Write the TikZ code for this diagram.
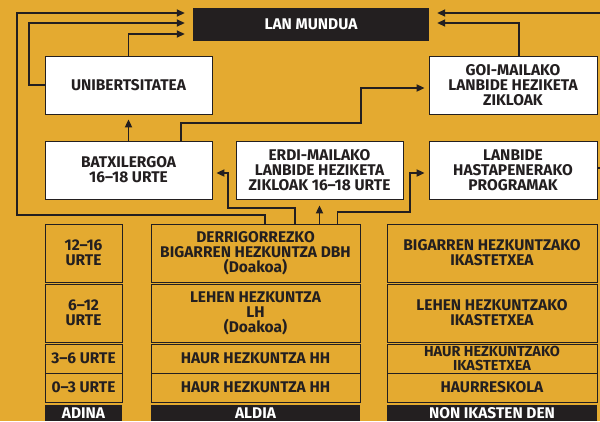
\documentclass[tikz,border=0pt]{standalone}
\usepackage{fontspec}
\setsansfont{Fira Sans}
\usetikzlibrary{arrows.meta}

\definecolor{ground}{HTML}{E4AA30}
\definecolor{ink}{HTML}{231F20}
\newcommand{\diagfont}{\sffamily\bfseries\fontsize{15.5}{15}\selectfont}

\tikzset{
  whitebox/.style={draw=ink, line width=0.8pt, fill=white, text=ink,
    minimum height=58pt, inner sep=0pt, align=center, font=\diagfont},
  blackbox/.style={fill=ink, text=white, inner sep=0pt, align=center,
    font=\diagfont},
  cell/.style={draw=ink, line width=0.8pt, text=ink, inner sep=0pt,
    align=center, font=\diagfont},
  conn/.style={draw=ink, line width=1.8pt, line join=miter,
    -{Triangle[length=8pt,width=7pt]}, shorten >=4pt},
}

\begin{document}
\begin{tikzpicture}[x=1pt, y=-1pt]
   % Sizes
   \pgfmathsetmacro{\boxw}{167}
   \pgfmathsetmacro{\boxh}{58}
   \pgfmathsetmacro{\rowh}{29}

   \useasboundingbox (0,0) rectangle (600,421);
   \clip (0,0) rectangle (600,421);
   \fill[ground] (0,0) rectangle (600,421);

   % upper boxes
   \node[blackbox, minimum width=236pt, minimum height=33pt] (lan) at (311,24.5) {LAN MUNDUA};
   \node[whitebox, minimum width=\boxw pt] (uni) at (128.5,85) {UNIBERTSITATEA};
   \node[whitebox, minimum width=\boxw pt] (batx) at (128.5,170) {BATXILERGOA\\16--18 URTE};
   \node[whitebox, minimum width=\boxw pt] (erdi) at (319.5,170) {ERDI-MAILAKO\\LANBIDE HEZIKETA\\ZIKLOAK 16--18 URTE};
   \node[whitebox, minimum width=168pt] (goi) at (513,85) {GOI-MAILAKO\\LANBIDE HEZIKETA\\ZIKLOAK};
   \node[whitebox, minimum width=168pt] (hasta) at (513,170) {LANBIDE\\HASTAPENERAKO\\PROGRAMAK};

   % table
   \node[cell, minimum width=77pt, minimum height=\boxh pt] (age1) at (83.5,253) {12--16\\URTE};
   \node[cell, minimum width=77pt, minimum height=\boxh pt] (age2) at (83.5,313) {6--12\\URTE};
   \node[cell, minimum width=77pt, minimum height=\rowh pt] (age3) at (83.5,358.5) {3--6 URTE};
   \node[cell, minimum width=77pt, minimum height=\rowh pt] (age4) at (83.5,387.5) {0--3 URTE};

   \node[cell, minimum width=209pt, minimum height=\boxh pt] (dbh) at (255.5,253) {DERRIGORREZKO\\BIGARREN HEZKUNTZA DBH\\(Doakoa)};
   \node[cell, minimum width=209pt, minimum height=\boxh pt] (lh) at (255.5,313) {LEHEN HEZKUNTZA\\LH\\(Doakoa)};
   \node[cell, minimum width=209pt, minimum height=\rowh pt] (hh) at (255.5,358.5) {HAUR HEZKUNTZA HH};
   \node[cell, minimum width=209pt, minimum height=\rowh pt] (hhb) at (255.5,387.5) {HAUR HEZKUNTZA HH};

   \node[cell, minimum width=210pt, minimum height=\boxh pt] (place1) at (492,253) {BIGARREN HEZKUNTZAKO\\IKASTETXEA};
   \node[cell, minimum width=210pt, minimum height=\boxh pt] (place2) at (492,313) {LEHEN HEZKUNTZAKO\\IKASTETXEA};
   \node[cell, minimum width=210pt, minimum height=\rowh pt,
     font=\sffamily\bfseries\fontsize{14.5}{13.2}\selectfont] (place3) at (492,358.5) {HAUR HEZKUNTZAKO\\IKASTETXEA};
   \node[cell, minimum width=210pt, minimum height=\rowh pt] (place4) at (492,387.5) {HAURRESKOLA};

   % labels
   \node[blackbox, minimum width=77pt, minimum height=16pt] (agehead) at (83.5,413) {ADINA};
   \node[blackbox, minimum width=209pt, minimum height=16pt] (stagehead) at (255.5,413) {ALDIA};
   \node[blackbox, minimum width=210pt, minimum height=16pt] (placehead) at (492,413) {NON IKASTEN DEN};

   % connectors
   \draw[conn, shorten >=8pt] ([xshift=9.5pt]dbh.north) -- ++(0,-9) -| (17,13) -- ([yshift=11.5pt]lan.west);
   \draw[conn, shorten >=8pt] (uni.west) -| (29,23) -- ([yshift=1.5pt]lan.west);
   \draw[conn, shorten >=8pt] (uni.north) |- ([yshift=-9.5pt]lan.west);
   \draw[conn, shorten >=5pt] (batx.north) -- (uni.south);
   \draw[conn] ([xshift=52.5pt]batx.north) |- (361,123) |- ([yshift=-3pt]goi.west);
   \draw[conn, shorten >=8pt] ([xshift=6pt]goi.north) |- ([yshift=1.5pt]lan.east);
   \draw[conn, shorten >=8pt] ([yshift=2pt]hasta.east) -- ++(7,0) |- ([yshift=11.5pt]lan.east);
   \draw[conn] ([xshift=39.5pt]dbh.north) |- (228,208) |- ([yshift=-3pt]batx.east);
   \draw[conn, shorten >=6pt] (dbh.north -| erdi.south) -- (erdi.south);
   \draw[conn] ([xshift=82pt]dbh.north) |- (410,212) |- ([yshift=-3pt]hasta.west);
\end{tikzpicture}
\end{document}
